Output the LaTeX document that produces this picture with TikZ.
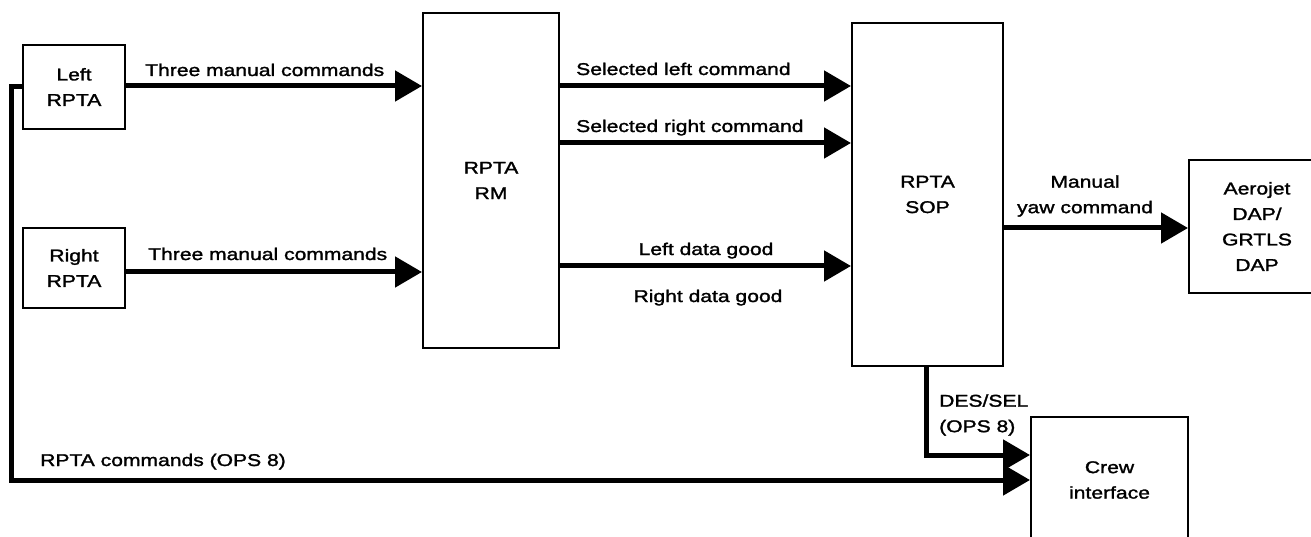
\documentclass[tikz,border=0pt]{standalone}
\usepackage{fontspec}
\setmainfont[FakeStretch=1.24,FakeBold=1.6]{Liberation Sans}
\usetikzlibrary{arrows.meta,calc}
\begin{document}
\begin{tikzpicture}[x=1pt,y=-1pt,
  font=\fontsize{17}{25.5}\selectfont,
  blk/.style={draw,line width=2pt,inner sep=0pt,align=center},
  conn/.style={line width=5pt,-{Triangle[length=27pt,width=30pt]}},
  lbl/.style={inner sep=0pt}]
\useasboundingbox (0,0) rectangle (1311,537);
% boxes
\node[blk,minimum width=102pt,minimum height=84pt] (lrpta) at (74,87) {Left\\RPTA};
\node[blk,minimum width=102pt,minimum height=80pt] (rrpta) at (74,268) {Right\\RPTA};
\node[blk,minimum width=136pt,minimum height=335pt] (rm) at (491,180.5) {RPTA\\RM};
\node[blk,minimum width=151pt,minimum height=343pt] (sop) at (927.5,194.5) {RPTA\\SOP};
\node[blk,minimum width=136pt,minimum height=133pt] (aero) at (1257,226.5) {Aerojet\\DAP/\\GRTLS\\DAP};
\node[blk,minimum width=157pt,minimum height=126pt] (crew) at (1109.5,480) {Crew\\interface};
\coordinate (fb) at (11,480);
% connectors
\draw[conn] ([yshift=1pt]lrpta.east) -- ([yshift=1pt]lrpta.east -| rm.west);
\draw[conn] ([yshift=-4pt]rrpta.east) -- ([yshift=-4pt]rrpta.east -| rm.west);
\draw[conn] (rm.east |- 0,86) -- (sop.west |- 0,86);
\draw[conn] (rm.east |- 0,143) -- (sop.west |- 0,143);
\draw[conn] (rm.east |- 0,266) -- (sop.west |- 0,266);
\draw[conn] (sop.east |- 0,228) -- (aero.west |- 0,228);
\draw[conn] ([xshift=-1.5pt]sop.south) |- ([yshift=25pt]crew.west);
\draw[conn] (lrpta.west) -| (fb) -- (crew.west);
% labels
\node[lbl,anchor=base west] (t1) at (145,76) {Three manual commands};
\node[lbl,anchor=base west] (t2) at (148,260) {Three manual commands};
\node[lbl,anchor=base west] (t3) at (576,75) {Selected left command};
\node[lbl,anchor=base west] (t4) at (576,132) {Selected right command};
\node[lbl,anchor=base] (t5) at (706,255) {Left data good};
\node[lbl,anchor=base] (t6) at (708,302) {Right data good};
\node[lbl,align=center] (t7) at (1085,196) {Manual\\yaw command};
\node[lbl,align=left,anchor=west] (t8) at (939,415) {DES/SEL\\(OPS 8)};
\node[lbl,anchor=base west] (t9) at (40,466) {RPTA commands (OPS 8)};
\end{tikzpicture}
\end{document}
